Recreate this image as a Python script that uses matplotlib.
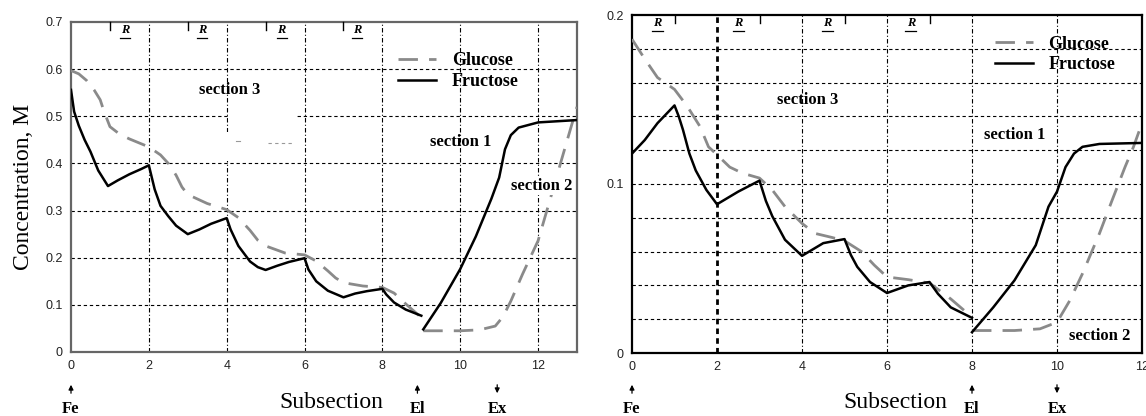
import numpy as np
import matplotlib
matplotlib.use("Agg")
import matplotlib.pyplot as plt
import matplotlib.transforms as mtransforms
from matplotlib.lines import Line2D

nan = np.nan
# ---------------- data (left panel) ----------------
left_fru_x = [0, 0.08, 0.2, 0.35, 0.5, 0.7, 0.95, 1.2, 1.5, 1.8, 2.0, 2.15, 2.3, 2.5, 2.7, 3.0,
              3.3, 3.6, 4.0, 4.1, 4.3, 4.6, 4.8, 5.0, 5.3, 5.6, 6.0, 6.1, 6.3, 6.6, 7.0,
              7.3, 7.6, 8.0, 8.1, 8.3, 8.6, 9.0, nan,
              9.05, 9.5, 10.0, 10.4, 10.8, 11.0, 11.15, 11.3, 11.5, 12.0, 13.0]
left_fru_y = [0.556, 0.51, 0.48, 0.45, 0.425, 0.385, 0.352, 0.364, 0.377, 0.388, 0.396, 0.345, 0.31, 0.288, 0.268, 0.25,
              0.26, 0.272, 0.284, 0.26, 0.225, 0.192, 0.18, 0.174, 0.183, 0.191, 0.199, 0.175, 0.15, 0.13, 0.116,
              0.124, 0.129, 0.134, 0.122, 0.105, 0.09, 0.077, nan,
              0.048, 0.104, 0.176, 0.245, 0.325, 0.37, 0.43, 0.46, 0.476, 0.487, 0.492]
left_glu_x = [0, 0.2, 0.4, 0.6, 0.75, 0.85, 1.0, 1.25, 1.5, 2.0, 2.3, 2.5, 2.7, 2.85, 3.0, 3.5, 4.0,
              4.3, 4.6, 4.8, 5.0, 5.5, 6.0, 6.3, 6.6, 6.8, 7.0, 7.5, 8.0, 8.3, 8.6, 9.0, nan,
              9.05, 10.0, 10.5, 10.9, 11.1, 11.3, 11.6, 12.0, 12.3, 12.6, 12.85, 13.0]
left_glu_y = [0.597, 0.59, 0.576, 0.555, 0.535, 0.51, 0.478, 0.462, 0.452, 0.435, 0.418, 0.4, 0.375, 0.35, 0.334, 0.315, 0.302,
              0.285, 0.258, 0.237, 0.225, 0.21, 0.206, 0.193, 0.172, 0.157, 0.147, 0.14, 0.137, 0.125, 0.102, 0.073, nan,
              0.045, 0.045, 0.047, 0.055, 0.075, 0.108, 0.165, 0.236, 0.321, 0.407, 0.478, 0.52]

# ---------------- data (right panel) ----------------
right_fru_x = [0, 0.3, 0.6, 1.0, 1.1, 1.2, 1.35, 1.5, 1.75, 2.0, 2.5, 3.0, 3.15, 3.3, 3.6, 4.0,
               4.5, 5.0, 5.15, 5.3, 5.6, 6.0, 6.5, 7.0, 7.2, 7.5, 8.0, nan,
               8.0, 8.5, 9.0, 9.5, 9.8, 10.0, 10.2, 10.4, 10.6, 11.0, 12.0]
right_fru_y = [0.118, 0.126, 0.136, 0.1465, 0.14, 0.132, 0.118, 0.108, 0.0965, 0.088, 0.0955, 0.102, 0.09, 0.081, 0.067, 0.0575,
               0.065, 0.0674, 0.058, 0.051, 0.042, 0.0355, 0.04, 0.042, 0.035, 0.027, 0.0208, nan,
               0.0123, 0.027, 0.043, 0.0638, 0.0866, 0.0955, 0.11, 0.118, 0.122, 0.1237, 0.1243]
right_glu_x = [0, 0.3, 0.6, 1.0, 1.3, 1.6, 1.8, 2.0, 2.3, 2.6, 3.0, 3.3, 3.6, 4.0, 4.3, 4.7, 5.0,
               5.4, 5.7, 6.0, 6.5, 7.0, 7.5, 8.0, nan,
               8.0, 9.0, 9.6, 10.0, 10.3, 10.6, 11.0, 11.3, 11.6, 11.8, 12.0]
right_glu_y = [0.1857, 0.174, 0.163, 0.156, 0.146, 0.134, 0.122, 0.1173, 0.11, 0.1064, 0.1035, 0.0965, 0.0866, 0.0767, 0.0708, 0.0684, 0.0664,
               0.06, 0.052, 0.045, 0.0434, 0.0414, 0.032, 0.0212, nan,
               0.0133, 0.0133, 0.0143, 0.0182, 0.031, 0.047, 0.0708, 0.0906, 0.11, 0.122, 0.136]

series_names = ["Glucose", "Fructose"]
x_ticks = [0, 2, 4, 6, 8, 10, 12]
left_y_ticks = [0, 0.1, 0.2, 0.3, 0.4, 0.5, 0.6, 0.7]
left_y_labels = ["0", "0.1", "0.2", "0.3", "0.4", "0.5", "0.6", "0.7"]
right_y_ticks = [0, 0.1, 0.2]
right_y_labels = ["0", "0.1", "0.2"]
right_grid_y = [0.02, 0.04, 0.06, 0.08, 0.10, 0.12, 0.14, 0.16, 0.18]
left_R_x = [1.38, 3.37, 5.41, 7.35]
right_R_x = [0.6, 2.5, 4.6, 6.56]
top_tick_x = [1, 3, 5, 7]
left_ports = [("Fe", 0.0, "up"), ("El", 8.9, "up"), ("Ex", 10.95, "down")]
right_ports = [("Fe", 0.0, "up"), ("El", 8.0, "up"), ("Ex", 10.0, "down")]

SERIF = "Liberation Serif"
SANS = "Liberation Sans"
GLU_COLOR = "#8a8a8a"

fig = plt.figure(figsize=(11.46, 4.16), dpi=100)
axL = fig.add_axes([71/1146, 1-352/416, (577-71)/1146, (352-22)/416])
axR = fig.add_axes([632/1146, 1-353/416, (1142-632)/1146, (353-15)/416])


def style_axes(ax, xlim, ylim, yticks, ylabels, spine_color):
    ax.set_xlim(*xlim)
    ax.set_ylim(*ylim)
    ax.set_xticks(x_ticks)
    ax.set_xticklabels([str(t) for t in x_ticks], fontfamily=SANS, fontsize=9, color="#222222")
    ax.set_yticks(yticks)
    ax.set_yticklabels(ylabels, fontfamily=SANS, fontsize=9, color="#222222")
    ax.tick_params(axis="both", length=0, pad=6)
    for s in ax.spines.values():
        s.set_color(spine_color)
        s.set_linewidth(1.6)
    tr = mtransforms.blended_transform_factory(ax.transData, ax.transAxes)
    for xt in top_tick_x:
        ax.plot([xt, xt], [1.0, 0.975], transform=tr, color="black", lw=1.0, clip_on=False, zorder=4)


def r_marks(ax, xs):
    tr = mtransforms.blended_transform_factory(ax.transData, ax.transAxes)
    for xr in xs:
        ax.text(xr, 0.958, "R", transform=tr, fontfamily=SERIF, fontstyle="italic", fontweight="bold",
                fontsize=9, ha="center", va="bottom")
        ax.plot([xr - 0.13, xr + 0.13], [0.952, 0.952], transform=tr, color="black", lw=0.9)


# ---------- left panel ----------
style_axes(axL, (0, 13), (0, 0.7), left_y_ticks, left_y_labels, "#666666")
for yv in left_y_ticks[1:-1]:
    axL.axhline(yv, color="black", lw=0.8, dashes=(3, 2.5), zorder=1)
for xv in x_ticks[1:]:
    axL.axvline(xv, color="black", lw=0.8, dashes=(4, 2, 1, 2), zorder=1)
# erased spots in the grid (as in the source image)
axL.add_patch(plt.Rectangle((3.96, 0.406), 1.84, 0.06, color="white", zorder=1.5, lw=0))
axL.add_patch(plt.Rectangle((4.03, 0.49), 1.77, 0.02, color="white", zorder=1.5, lw=0))
axL.plot([4.25, 4.33], [0.447, 0.447], color="#999999", lw=0.8, zorder=1.6)
axL.plot([5.07, 5.7], [0.443, 0.443], color="#999999", lw=0.8, dashes=(3, 3), zorder=1.6)

axL.plot(left_glu_x, left_glu_y, color=GLU_COLOR, lw=2.0, dashes=(7, 4), zorder=3)
axL.plot(left_fru_x, left_fru_y, color="black", lw=1.8, zorder=3)

axL.text(4.08, 0.555, "section 3", fontfamily=SERIF, fontweight="bold", fontsize=12, ha="center", va="center", zorder=5)
axL.text(10.0, 0.446, "section 1", fontfamily=SERIF, fontweight="bold", fontsize=12, ha="center", va="center", zorder=5)
axL.text(12.1, 0.353, "section 2", fontfamily=SERIF, fontweight="bold", fontsize=12, ha="center", va="center", zorder=5,
         bbox=dict(facecolor="white", edgecolor="none", pad=1))
r_marks(axL, left_R_x)
axL.set_ylabel("Concentration, M", fontfamily=SERIF, fontsize=17, labelpad=8)

handles = [Line2D([], [], color=GLU_COLOR, lw=2.0, dashes=(7, 4)), Line2D([], [], color="black", lw=1.8)]
axL.legend(handles, series_names, loc="upper left", bbox_to_anchor=(0.615, 0.957), frameon=False,
           handlelength=2.1, handletextpad=0.85, labelspacing=0.2,
           prop=dict(family=SERIF, weight="bold", size=13))

# ---------- right panel ----------
style_axes(axR, (0, 12), (0, 0.2), right_y_ticks, right_y_labels, "black")
for yv in right_grid_y:
    axR.axhline(yv, color="black", lw=0.8, dashes=(3, 2.5), zorder=1)
for xv in x_ticks[1:-1]:
    if xv == 2:
        axR.axvline(xv, color="black", lw=2.0, dashes=(2, 1.5), zorder=1)
    else:
        axR.axvline(xv, color="black", lw=0.8, dashes=(4, 2, 1, 2), zorder=1)

axR.plot(right_glu_x, right_glu_y, color=GLU_COLOR, lw=2.0, dashes=(7, 4), zorder=3)
axR.plot(right_fru_x, right_fru_y, color="black", lw=1.8, zorder=3)

axR.text(4.13, 0.150, "section 3", fontfamily=SERIF, fontweight="bold", fontsize=12, ha="center", va="center", zorder=5)
axR.text(9.01, 0.129, "section 1", fontfamily=SERIF, fontweight="bold", fontsize=12, ha="center", va="center", zorder=5)
axR.text(11.0, 0.0103, "section 2", fontfamily=SERIF, fontweight="bold", fontsize=12, ha="center", va="center", zorder=5,
         bbox=dict(facecolor="white", edgecolor="none", pad=1))
r_marks(axR, right_R_x)
axR.legend(handles, series_names, loc="upper left", bbox_to_anchor=(0.68, 0.987), frameon=False,
           handlelength=2.1, handletextpad=0.85, labelspacing=0.2,
           prop=dict(family=SERIF, weight="bold", size=13))


def bottom_labels(ax, ports, sub_x):
    tr = mtransforms.blended_transform_factory(ax.transData, fig.transFigure)
    for name, xv, direction in ports:
        ax.text(xv, (416 - 409) / 416, name, transform=tr, fontfamily=SERIF, fontweight="bold", fontsize=12,
                ha="center", va="center")
        y_lo, y_hi = (416 - 396) / 416, (416 - 382) / 416
        if direction == "up":
            start, end = y_lo, y_hi
        else:
            start, end = y_hi, y_lo
        ax.annotate("", xy=(xv, end), xytext=(xv, start), xycoords=tr, textcoords=tr,
                    arrowprops=dict(arrowstyle="-|>", color="black", lw=0.9, mutation_scale=7))
    ax.text(sub_x, (416 - 402) / 416, "Subsection", transform=tr, fontfamily=SERIF, fontsize=17,
            ha="center", va="center")


bottom_labels(axL, left_ports, 6.7)
bottom_labels(axR, right_ports, 6.19)

fig.savefig("out.png", dpi=100)
